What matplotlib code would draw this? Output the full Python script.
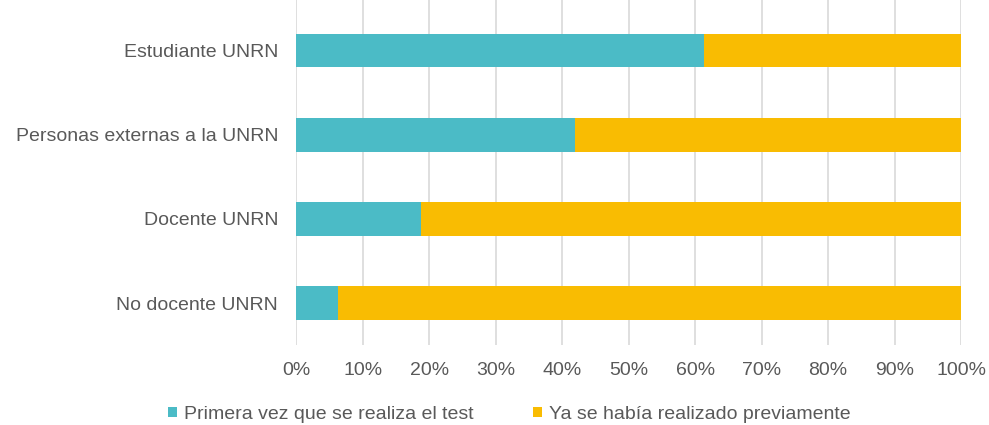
import numpy as np
import matplotlib.pyplot as plt
from matplotlib.ticker import PercentFormatter
from matplotlib.patches import Patch

plt.rcParams['font.family'] = ['Liberation Sans', 'DejaVu Sans']

# Data
categories = ['Estudiante UNRN', 'Personas externas a la UNRN', 'Docente UNRN', 'No docente UNRN']
primera_vez = [61.3, 42.0, 18.7, 6.2]
ya_realizado = [100 - v for v in primera_vez]
series_names = ['Primera vez que se realiza el test', 'Ya se había realizado previamente']
colors = ['#4BBBC6', '#F9BC02']
text_color = '#595959'

fig = plt.figure(figsize=(9.89, 4.25), dpi=100)
ax = fig.add_axes([0.2996, 0.188, 0.6721, 0.812])

y = np.arange(len(categories))[::-1]
ax.barh(y, primera_vez, height=0.4, color=colors[0], zorder=3)
ax.barh(y, ya_realizado, left=primera_vez, height=0.4, color=colors[1], zorder=3)

ax.set_xlim(0, 100)
ax.set_ylim(-0.5, len(categories) - 0.5 + 0.1)
ax.set_xticks(np.arange(0, 101, 10))
ax.xaxis.set_major_formatter(PercentFormatter(decimals=0))
ax.set_yticks(y)
ax.set_yticklabels(categories)
ax.tick_params(axis='both', length=0, labelsize=14, colors=text_color)
ax.tick_params(axis='y', pad=13)
ax.tick_params(axis='x', pad=12)
ax.grid(axis='x', color='#D9D9D9', linewidth=1.2, zorder=0)
for s in ax.spines.values():
    s.set_visible(False)

handles = [Patch(facecolor=c, label=n) for c, n in zip(colors, series_names)]
fig.legend(handles=handles, loc='lower center', bbox_to_anchor=(0.515, -0.036), ncol=2,
           frameon=False, fontsize=14, labelcolor=text_color,
           handlelength=0.45, handleheight=0.45, handletextpad=0.35, columnspacing=3.1)

fig.savefig('out.png', dpi=100)
